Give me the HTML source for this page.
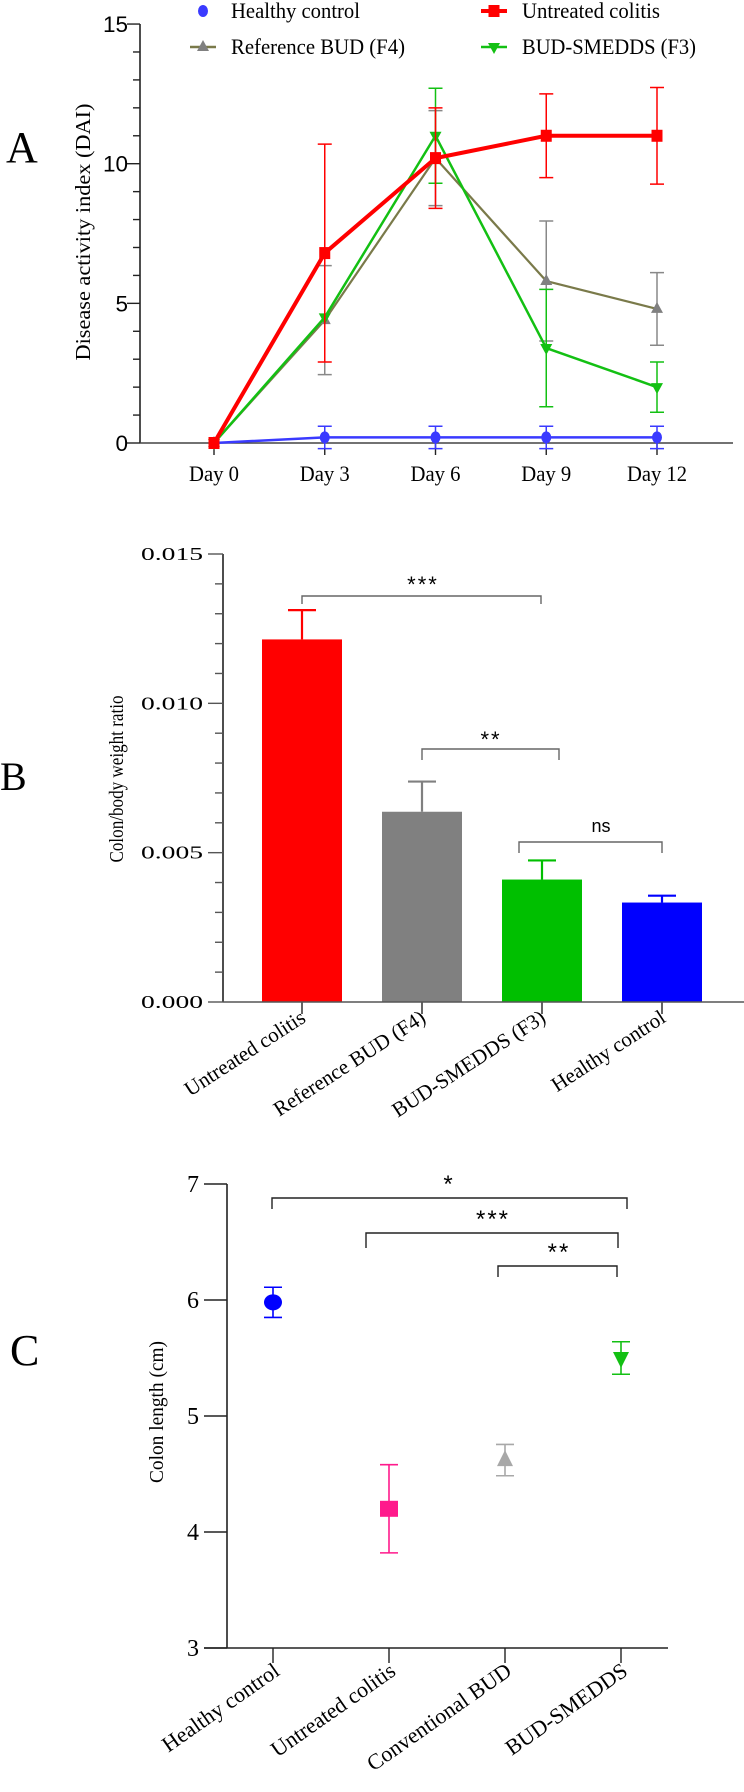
<!DOCTYPE html>
<html><head><meta charset="utf-8">
<style>
html,body{margin:0;padding:0;background:#fff;}
svg{display:block;}
</style></head>
<body>
<svg id="fig" width="744" height="1792" viewBox="0 0 744 1792" xmlns="http://www.w3.org/2000/svg" font-family="'Liberation Serif', serif">
<g id="pa"></g>
<g id="pb"></g>
<g id="pc"></g>
</svg>
<script>
// ---------- Panel A data ----------
const daysA = ["Day 0","Day 3","Day 6","Day 9","Day 12"];
const ticksA = [0,5,10,15];
const healthyA = [0,0.2,0.2,0.2,0.2];
const healthyErrA = [0,0.4,0.4,0.4,0.4];
const untreatedA = [0,6.8,10.2,11,11];
const untreatedErrA = [0,3.9,1.8,1.5,1.73];
const refBudA = [0,4.4,10.2,5.8,4.8];
const refBudErrA = [0,1.95,1.7,2.15,1.3];
const smeddsA = [0,4.5,11,3.4,2];
const smeddsErrA = [0,0,1.7,2.1,0.9];
// ---------- Panel B data ----------
const groupsB = ["Untreated colitis","Reference BUD (F4)","BUD-SMEDDS (F3)","Healthy control"];
const valuesB = [0.01214,0.00637,0.0041,0.00333];
const errB = [0.00098,0.00101,0.00064,0.00023];
const ticksB = ["0.000","0.005","0.010","0.015"];
// ---------- Panel C data ----------
const groupsC = ["Healthy control","Untreated colitis","Conventional BUD","BUD-SMEDDS"];
const valuesC = [5.98,4.2,4.62,5.5];
const errC = [0.13,0.38,0.135,0.14];
const ticksC = [3,4,5,6,7];

const NS="http://www.w3.org/2000/svg";
const SANS='"Liberation Sans", sans-serif';
function mk(parent,tag,attrs,txt){const e=document.createElementNS(NS,tag);for(const k in attrs)e.setAttribute(k,attrs[k]);if(txt!==undefined)e.textContent=txt;parent.appendChild(e);return e;}

// ================= PANEL A =================
(function(){
const g=document.getElementById('pa');
const xA=i=>214+i*110.75;
const yA=v=>443-v*27.93;
let t=mk(g,'text',{x:6,y:162,'font-size':44});
t.textContent='A';
let ax=mk(g,'line',{x1:140,y1:yA(15),x2:140,y2:yA(0),stroke:'#222','stroke-width':1.6});

let xx=mk(g,'line',{x1:140,y1:yA(0),x2:733,y2:yA(0),stroke:'#444','stroke-width':1.6});

for(let v=0;v<=15;v++){
  const maj=v%5===0;
  const tk=mk(g,'line',{x1:maj?127:133,y1:yA(v),x2:140,y2:yA(v),stroke:'#222','stroke-width':1.4});
  
}
ticksA.forEach(v=>{
  const s=String(v);
  const tl=mk(g,'text',{x:128,y:yA(v)+8,'text-anchor':'end','font-size':22,'font-family':SANS,textLength:s.length*12.5,lengthAdjust:'spacingAndGlyphs'},s);
  
});
daysA.forEach((d,i)=>{
  const tk=mk(g,'line',{x1:xA(i),y1:yA(0),x2:xA(i),y2:yA(0)+12,stroke:'#222','stroke-width':1.4});
  
  const tl=mk(g,'text',{x:xA(i),y:481,'text-anchor':'middle','font-size':22,textLength:d.length*10,lengthAdjust:'spacingAndGlyphs'},d);
  
});
const yt=mk(g,'text',{transform:'translate(90,232) rotate(-90)','text-anchor':'middle','font-size':21,textLength:257,lengthAdjust:'spacingAndGlyphs'},'Disease activity index (DAI)');


function series(vals,errs,color,errColor,width,marker,name){
  const sg=mk(g,'g',{});
  
  vals.forEach((v,i)=>{
    if(errs[i]>0){
      const x=xA(i);
      const eb=mk(sg,'path',{d:`M${x},${yA(v+errs[i])}V${yA(v-errs[i])}M${x-7},${yA(v+errs[i])}h14M${x-7},${yA(v-errs[i])}h14`,stroke:errColor,'stroke-width':1.5,fill:'none'});
      
    }
  });
  const ln=mk(sg,'polyline',{points:vals.map((v,i)=>xA(i)+','+yA(v)).join(' '),stroke:color,'stroke-width':width,fill:'none','stroke-linejoin':'round'});
  
  vals.forEach((v,i)=>{drawMarker(sg,marker,xA(i),yA(v),name);});
}
function drawMarker(p,marker,x,y,name){
  let m;
  if(marker==='circle') m=mk(p,'ellipse',{cx:x,cy:y,rx:5,ry:6,fill:'#3a3aff'});
  else if(marker==='square') m=mk(p,'rect',{x:x-5.5,y:y-6,width:11,height:12,fill:'#ff0000'});
  else if(marker==='tri') m=mk(p,'polygon',{points:`${x},${y-7} ${x-6},${y+4} ${x+6},${y+4}`,fill:'#808080'});
  else m=mk(p,'polygon',{points:`${x},${y+7} ${x-6},${y-4} ${x+6},${y-4}`,fill:'#13c013'});
  
}
series(refBudA,refBudErrA,'#7a7a4a','#888',2.2,'tri','reference-bud');
series(smeddsA,smeddsErrA,'#13c013','#13c013',2.5,'dtri','bud-smedds');
series(healthyA,healthyErrA,'#3a3aff','#3a3aff',2.5,'circle','healthy-control');
series(untreatedA,untreatedErrA,'#ff0000','#ff0000',4,'square','untreated-colitis');

const lg=mk(g,'g',{});

const entries=[
 {lab:'Healthy control',x:190,y:11,c:'#3a3aff',m:'circle',line:false,w:129},
 {lab:'Untreated colitis',x:481,y:11,c:'#ff0000',m:'square',line:true,w:138},
 {lab:'Reference BUD (F4)',x:190,y:47,c:'#7a7a4a',m:'tri',line:true,w:174},
 {lab:'BUD-SMEDDS (F3)',x:481,y:47,c:'#13c013',m:'dtri',line:true,w:174}];
entries.forEach(e=>{
  const eg=mk(lg,'g',{});
  
  if(e.line) mk(eg,'line',{x1:e.x,y1:e.y,x2:e.x+26,y2:e.y,stroke:e.c,'stroke-width':e.m==='square'?4:2.5});
  drawMarker(eg,e.m,e.x+13,e.y,'legend');
  const tx=mk(eg,'text',{x:e.x+41,y:e.y+7,'font-size':22,textLength:e.w,lengthAdjust:'spacingAndGlyphs'},e.lab);
  
});
})();

// ================= PANEL B =================
(function(){
const g=document.getElementById('pb');
const yB=v=>1002-v*(448/0.015);
const xB=i=>302+i*120;
let t=mk(g,'text',{x:0,y:790,'font-size':40},'B');

let ax=mk(g,'line',{x1:223,y1:yB(0.015),x2:223,y2:1002,stroke:'#222','stroke-width':1.6});

for(let k=0;k<=15;k++){
  const maj=k%5===0;
  const tk=mk(g,'line',{x1:maj?208:215,y1:yB(k*0.001),x2:223,y2:yB(k*0.001),stroke:'#555','stroke-width':1.4});
  
}
ticksB.forEach(s=>{
  const tl=mk(g,'text',{x:203,y:yB(parseFloat(s))+6,'text-anchor':'end','font-size':18,textLength:62,lengthAdjust:'spacingAndGlyphs'},s);
  
});
const yt=mk(g,'text',{transform:'translate(123,779) rotate(-90)','text-anchor':'middle','font-size':20,textLength:167,lengthAdjust:'spacingAndGlyphs'},'Colon/body weight ratio');

const colors=['#ff0000','#808080','#00bf00','#0000ff'];
valuesB.forEach((v,i)=>{
  const x=xB(i);
  const eb=mk(g,'path',{d:`M${x},${yB(v)}V${yB(v+errB[i])}M${x-14},${yB(v+errB[i])}h28`,stroke:colors[i],'stroke-width':2.2,fill:'none'});
  
  const b=mk(g,'rect',{x:x-40,y:yB(v),width:80,height:1002-yB(v),fill:colors[i]});
  
  
  const tk=mk(g,'line',{x1:x,y1:1002,x2:x,y2:1014,stroke:'#222','stroke-width':1.4});
  
  const tl=mk(g,'text',{transform:`translate(${x+5},1021) rotate(-33)`,'text-anchor':'end','font-size':21},groupsB[i]);
  
});
let xx=mk(g,'line',{x1:223,y1:1002,x2:744,y2:1002,stroke:'#555','stroke-width':1.6});

const brackets=[[302,541,596,604,'***',423,592],[422,559,749,760,'**',491,747],[519,662,842,853,'ns',601,832]];
brackets.forEach(b=>{
  const p=mk(g,'path',{d:`M${b[0]},${b[3]}V${b[2]}H${b[1]}V${b[3]}`,stroke:'#666','stroke-width':1.4,fill:'none'});
  
  const s=mk(g,'text',{x:b[5],y:b[6],'text-anchor':'middle','font-size':b[4]==='ns'?18:22,'font-family':SANS,'letter-spacing':b[4]==='ns'?0:2},b[4]);
  
});
})();

// ================= PANEL C =================
(function(){
const g=document.getElementById('pc');
const yC=v=>1648-(v-3)*116;
const xC=i=>273+i*116;
let t=mk(g,'text',{x:10,y:1365,'font-size':44},'C');

let ax=mk(g,'line',{x1:227,y1:yC(7),x2:227,y2:yC(3),stroke:'#222','stroke-width':1.6});

let xx=mk(g,'line',{x1:204,y1:yC(3),x2:668,y2:yC(3),stroke:'#222','stroke-width':1.6});

ticksC.forEach(v=>{
  const tk=mk(g,'line',{x1:204,y1:yC(v),x2:227,y2:yC(v),stroke:'#222','stroke-width':1.4});
  
  const tl=mk(g,'text',{x:199,y:yC(v)+8,'text-anchor':'end','font-size':24},String(v));
  
});
const yt=mk(g,'text',{transform:'translate(163,1412) rotate(-90)','text-anchor':'middle','font-size':20,textLength:142,lengthAdjust:'spacingAndGlyphs'},'Colon length (cm)');

const colors=['#0000ff','#ff1a8c','#a8a8a8','#13c013'];
const marks=['circle','square','tri','dtri'];
valuesC.forEach((v,i)=>{
  const x=xC(i),c=colors[i];
  const eb=mk(g,'path',{d:`M${x},${yC(v+errC[i])}V${yC(v-errC[i])}M${x-9},${yC(v+errC[i])}h18M${x-9},${yC(v-errC[i])}h18`,stroke:c,'stroke-width':1.6,fill:'none'});
  
  const y=yC(v);let m;
  if(marks[i]==='circle') m=mk(g,'ellipse',{cx:x,cy:y,rx:9,ry:8,fill:c});
  else if(marks[i]==='square') m=mk(g,'rect',{x:x-9,y:y-8,width:18,height:16,fill:c});
  else if(marks[i]==='tri') m=mk(g,'polygon',{points:`${x},${y-10} ${x-8},${y+6} ${x+8},${y+6}`,fill:c});
  else m=mk(g,'polygon',{points:`${x},${y+10} ${x-8},${y-6} ${x+8},${y-6}`,fill:c});
  
  
  const tk=mk(g,'line',{x1:x,y1:yC(3),x2:x,y2:yC(3)+15,stroke:'#222','stroke-width':1.4});
  
  const tl=mk(g,'text',{transform:`translate(${x+8},1674) rotate(-35)`,'text-anchor':'end','font-size':22},groupsC[i]);
  
});
const brackets=[[272,627,1198,1209,'*',449,1192],[366,618,1233,1248,'***',493,1227],[498,617,1266,1277,'**',559,1260]];
brackets.forEach(b=>{
  const p=mk(g,'path',{d:`M${b[0]},${b[3]}V${b[2]}H${b[1]}V${b[3]}`,stroke:'#222','stroke-width':1.4,fill:'none'});
  
  const s=mk(g,'text',{x:b[5],y:b[6],'text-anchor':'middle','font-size':24,'font-family':SANS,'letter-spacing':2},b[4]);
  
});
})();
</script>
</body></html>
